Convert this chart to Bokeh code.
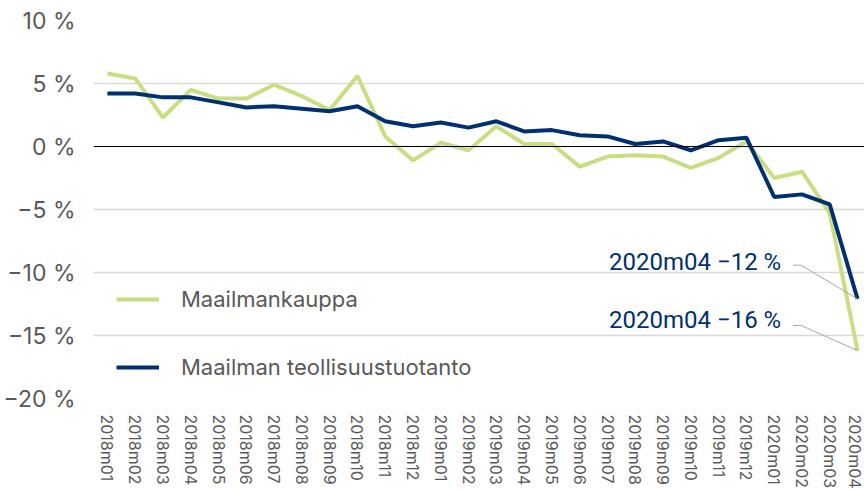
from bokeh.plotting import figure
from bokeh.models import Range1d, FixedTicker, Legend, LegendItem, Span
from bokeh.core.properties import value
from bokeh.embed import file_html
from bokeh.resources import INLINE

months = ["2018m01", "2018m02", "2018m03", "2018m04", "2018m05", "2018m06", "2018m07",
          "2018m08", "2018m09", "2018m10", "2018m11", "2018m12", "2019m01", "2019m02",
          "2019m03", "2019m04", "2019m05", "2019m06", "2019m07", "2019m08", "2019m09",
          "2019m10", "2019m11", "2019m12", "2020m01", "2020m02", "2020m03", "2020m04"]
trade = [5.8, 5.4, 2.3, 4.5, 3.8, 3.8, 4.9, 4.0, 2.9, 5.6, 0.8, -1.1, 0.3, -0.3,
         1.6, 0.2, 0.2, -1.6, -0.8, -0.7, -0.8, -1.7, -0.9, 0.4, -2.5, -2.0, -5.3, -16.2]
industry = [4.2, 4.2, 3.9, 3.9, 3.5, 3.1, 3.2, 3.0, 2.8, 3.2, 2.0, 1.6, 1.9, 1.5,
            2.0, 1.2, 1.3, 0.9, 0.8, 0.2, 0.4, -0.3, 0.5, 0.7, -4.0, -3.8, -4.6, -12.1]
y_ticks = [10, 5, 0, -5, -10, -15, -20]
y_tick_labels = ["10 %", "5 %", "0 %", "\u22125 %", "\u221210 %", "\u221215 %", "\u221220 %"]
series_names = ["Maailmankauppa", "Maailman teollisuustuotanto"]
annot_texts = ["2020m04 \u221212 %", "2020m04 \u221216 %"]

GREEN = "#C9DD83"
NAVY = "#00306F"
GRAY_TXT = "#595959"

xs = list(range(len(months)))

p = figure(width=864, height=491, output_backend="svg", toolbar_location=None,
           x_range=Range1d(-0.5, 27.25), y_range=Range1d(-20, 10),
           min_border_left=92, min_border_right=0, min_border_top=20, min_border_bottom=88)
p.outline_line_color = None
p.background_fill_color = "white"

# axes
p.xaxis.ticker = FixedTicker(ticks=xs)
p.xaxis.major_label_overrides = {i: m for i, m in enumerate(months)}
p.xaxis.major_label_orientation = "vertical"
p.xaxis.axis_line_color = None
p.xaxis.major_tick_line_color = None
p.xaxis.minor_tick_line_color = None
p.xaxis.major_label_standoff = 10
p.xaxis.major_label_text_font = "Inter"
p.xaxis.major_label_text_font_size = "16px"
p.xaxis.major_label_text_color = GRAY_TXT

p.yaxis.ticker = FixedTicker(ticks=y_ticks)
p.yaxis.major_label_overrides = {t: l for t, l in zip(y_ticks, y_tick_labels)}
p.yaxis.axis_line_color = None
p.yaxis.major_tick_line_color = None
p.yaxis.minor_tick_line_color = None
p.yaxis.major_label_standoff = 12
p.yaxis.major_label_text_font = "Inter"
p.yaxis.major_label_text_font_size = "23px"
p.yaxis.major_label_text_color = GRAY_TXT

p.xgrid.grid_line_color = None
p.ygrid.grid_line_color = "#D9D9D9"
p.ygrid.grid_line_width = 1.5

p.add_layout(Span(location=0, dimension="width", line_color="black", line_width=1))

r_trade = p.line(xs, trade, line_color=GREEN, line_width=4)
r_ind = p.line(xs, industry, line_color=NAVY, line_width=4)

# annotations
last = len(months) - 1
p.line([24.68, 24.97, last], [-9.42, -9.42, industry[-1]], line_color="#A6A6A6", line_width=1)
p.line([24.68, 24.97, last], [-14.2, -14.2, trade[-1]], line_color="#A6A6A6", line_width=1)
p.text(x=[24.25, 24.25], y=[-9.2, -13.8], text=annot_texts, text_align="right",
       text_baseline="middle", text_color=NAVY, text_font=value("Roboto"),
       text_font_size="24px")

legend = Legend(items=[LegendItem(label=series_names[0], renderers=[r_trade]),
                       LegendItem(label=series_names[1], renderers=[r_ind])],
                location=(23, 18), orientation="vertical",
                background_fill_alpha=0, border_line_color=None,
                margin=0, padding=0, spacing=42,
                glyph_width=43, glyph_height=20, label_height=20,
                label_standoff=22, label_text_font="Inter",
                label_text_font_size="22px", label_text_color=GRAY_TXT)
p.add_layout(legend)

open("out.html", "w").write(file_html(p, INLINE))
